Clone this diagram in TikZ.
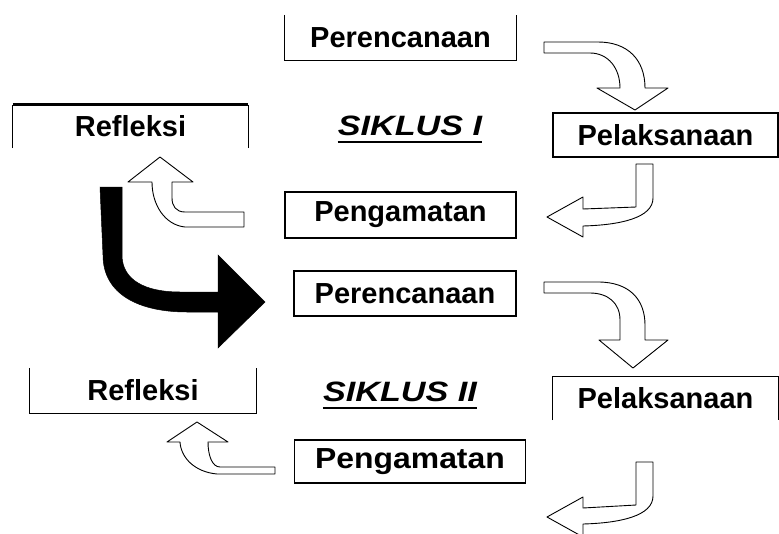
\documentclass[tikz,border=0pt]{standalone}
\usepackage{fontspec}
\setmainfont{Liberation Sans}
\begin{document}
\begin{tikzpicture}[x=1pt,y=-1pt,
  boxnode/.style={inner sep=0pt, font=\fontsize{29}{31}\selectfont\bfseries},
  boxline/.style={line width=1.2pt},
  siklus/.style={inner sep=0pt, font=\fontsize{28}{30}\selectfont\bfseries\itshape},
  hollow/.style={draw=black, fill=white, line width=0.9pt, line join=round},
  solid arrow/.style={fill=black, draw=black, line width=0.5pt}]
\useasboundingbox (0,0) rectangle (779,533);
\clip (0,0) rectangle (779,533);

% ---------- boxes, cycle I ----------
\node[boxnode, minimum width=231pt, minimum height=45pt] (p1) at (400.5,37.5) {Perencanaan};
\draw[boxline] (p1.north west) -- (p1.south west) -- (p1.south east) -- (p1.north east);

\node[boxnode, minimum width=235pt, minimum height=43pt] (r1) at (130.5,126.5) {Refleksi};
\draw[boxline] (r1.south west) -- (r1.north west);
\draw[boxline] (r1.south east) -- (r1.north east);
\draw[line width=3pt] (r1.north west) -- (r1.north east);

\node[siklus] (s1) at (410,126) {\scalebox{1.22}[1]{SIKLUS I}};
\draw[line width=2pt] ([yshift=-6pt]s1.south west) -- ([yshift=-6pt]s1.south east);

\node[boxnode, draw, boxline, minimum width=225pt, minimum height=44pt] (l1) at (665.5,135) {Pelaksanaan};

\node[boxnode, draw, boxline, minimum width=231pt, minimum height=46pt] (g1) at (400.5,215) {Pengamatan};

% ---------- boxes, cycle II ----------
\node[boxnode, draw, boxline, minimum width=222pt, minimum height=45pt] (p2) at (405,293.5) {Perencanaan};

\node[boxnode, minimum width=226pt, minimum height=45pt] (r2) at (143,390.5) {Refleksi};
\draw[boxline] (r2.north west) -- (r2.south west) -- (r2.south east) -- (r2.north east);

\node[siklus] (s2) at (400,392) {\scalebox{1.22}[1]{SIKLUS II}};
\draw[line width=2pt] ([yshift=-6pt]s2.south west) -- ([yshift=-6pt]s2.south east);

\node[boxnode, minimum width=225pt, minimum height=43pt] (l2) at (665.5,398.5) {Pelaksanaan};
\draw[boxline] (l2.south west) -- (l2.north west) -- (l2.north east) -- (l2.south east);

\node[boxnode, draw, boxline, minimum width=231pt, minimum height=43pt] (g2) at (410,461.5) {\scalebox{1.1}[1]{Pengamatan}};

% ---------- hollow curved arrows ----------
% Perencanaan I -> Pelaksanaan I
\draw[hollow] (544,42) -- (598,42) .. controls (628,42) and (645,60) .. (645,88)
  -- (668,88) -- (635,110) -- (597,88) -- (620,88)
  .. controls (620,68) and (608,53) .. (590,53) -- (544,53) -- cycle;
% Pelaksanaan I -> Pengamatan I
\draw[hollow] (636,164) -- (653,164) -- (653,198) .. controls (653,218) and (620,225) .. (583,226)
  -- (583,237) -- (547,217) -- (583,197) -- (583,209) -- (636,207) -- cycle;
% Pengamatan I -> Refleksi I
\draw[hollow] (244,212) -- (244,227) -- (185,227) .. controls (165,225) and (152,205) .. (152,182)
  -- (128,182) -- (160,157) -- (193,182) -- (172,182) -- (172,198)
  .. controls (172,206) and (176,212) .. (185,212) -- cycle;
% Perencanaan II -> Pelaksanaan II
\draw[hollow] (544,282) -- (598,282) .. controls (630,282) and (645,300) .. (645,325)
  -- (645,340) -- (668,340) -- (633,368) -- (599,340) -- (620,340) -- (620,320)
  .. controls (620,303) and (608,293) .. (590,293) -- (544,293) -- cycle;
% Pelaksanaan II -> (down-left)
\draw[hollow] (636,462) -- (653,462) -- (653,496) .. controls (653,516) and (620,523) .. (583,524)
  -- (583,537) -- (547,517) -- (583,497) -- (583,508) -- (636,505) -- cycle;
% Pengamatan II -> Refleksi II
\draw[hollow] (275,467) -- (275,474) -- (217,474) .. controls (195,472) and (181,458) .. (180,442)
  -- (167,442) -- (197,422) -- (228,442) -- (208,442)
  .. controls (208,455) and (212,467) .. (220,467) -- cycle;

% ---------- big black arrow: Refleksi I -> Perencanaan II ----------
\draw[solid arrow] (100,187) -- (122,187) -- (122,255) .. controls (122,280) and (145,292) .. (180,292)
  -- (218,292) -- (218,255) -- (265,302) -- (218,348) -- (218,312) -- (187,312)
  .. controls (140,312) and (103,295) .. (103,255) -- cycle;
\end{tikzpicture}
\end{document}
